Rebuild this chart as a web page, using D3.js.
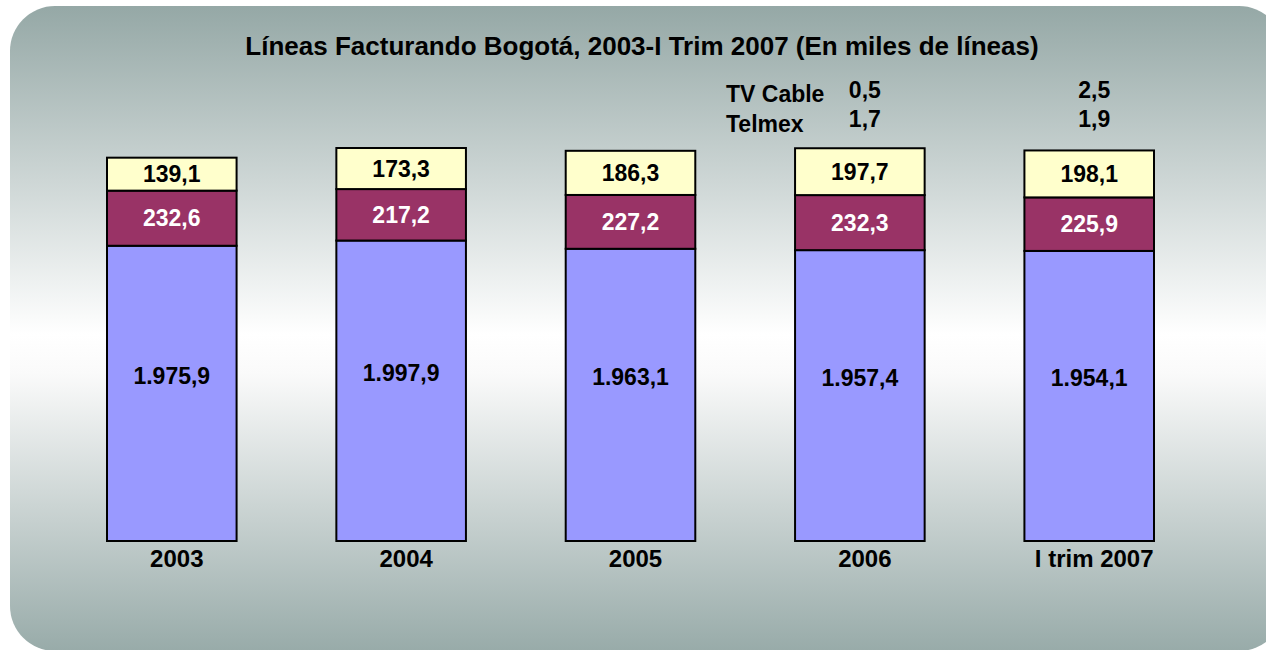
<html>

<head>
    <meta charset="UTF-8">
    <title>Lineas Facturando Bogota</title>
    <style>
        body {
            margin: 0;
            background: #fff;
        }

        text {
            font-family: "Liberation Sans", Arial, sans-serif;
            font-weight: bold;
        }

        .bar rect {
            stroke: #000;
            stroke-width: 2;
        }
    </style>
    <script src="https://d3js.org/d3.v7.min.js"></script>
</head>

<body>
    <script type="text/javascript">
        // data (miles de lineas)
        var periods = ['2003', '2004', '2005', '2006', 'I trim 2007']
        var etb = [1975.9, 1997.9, 1963.1, 1957.4, 1954.1]
        var epm = [232.6, 217.2, 227.2, 232.3, 225.9]
        var une = [139.1, 173.3, 186.3, 197.7, 198.1]
        var tvCable = [0, 0, 0, 0.5, 2.5]
        var telmex = [0, 0, 0, 1.7, 1.9]

        var layerNames = ['etb', 'epm', 'une']
        var layerColors = ['#9999ff', '#993366', '#ffffcc']
        var labelColors = ['#000', '#fff', '#000']

        var W = 1266, H = 650

        var rows = periods.map(function (p, i) {
            return { period: p, etb: etb[i], epm: epm[i], une: une[i] }
        })

        var svg = d3.select('body').append('svg')
            .attr('width', W)
            .attr('height', H)

        // background panel
        var grad = svg.append('defs').append('linearGradient')
            .attr('id', 'bg')
            .attr('x1', 0).attr('y1', 0).attr('x2', 0).attr('y2', 1)
        grad.append('stop').attr('offset', '0%').attr('stop-color', '#95a8a6')
        grad.append('stop').attr('offset', '51%').attr('stop-color', '#ffffff')
        grad.append('stop').attr('offset', '57%').attr('stop-color', '#fafafa')
        grad.append('stop').attr('offset', '100%').attr('stop-color', '#98aba9')

        svg.append('rect')
            .attr('x', 10).attr('y', 6)
            .attr('width', 1274).attr('height', 645)
            .attr('rx', 45).attr('ry', 45)
            .attr('fill', 'url(#bg)')

        svg.append('text')
            .attr('x', 642).attr('y', 55)
            .attr('text-anchor', 'middle')
            .style('font-size', '26px')
            .text('Líneas Facturando Bogotá, 2003-I Trim 2007 (En miles de líneas)')

        var x = d3.scaleBand()
            .domain(periods)
            .range([107, 1154])
            .paddingInner(0.435)
            .paddingOuter(0)

        // value axis starts above zero, as in the original
        var y = d3.scaleLinear()
            .domain([730, 2380])
            .range([541, 150])

        var stack = d3.stack().keys(layerNames)
        var series = stack(rows)

        var layers = svg.selectAll('.bar')
            .data(series)
            .enter().append('g')
            .attr('class', 'bar')
            .attr('fill', function (d, i) { return layerColors[i] })

        layers.selectAll('rect')
            .data(function (d) { return d })
            .enter().append('rect')
            .attr('x', function (d) { return x(d.data.period) })
            .attr('y', function (d) { return y(d[1]) })
            .attr('width', x.bandwidth())
            .attr('height', function (d) { return y(Math.max(d[0], 730)) - y(d[1]) })

        // segment labels
        var fmt = d3.formatLocale({ decimal: ',', thousands: '.', grouping: [3] }).format(',.1f')

        series.forEach(function (s, li) {
            svg.append('g').selectAll('text')
                .data(s)
                .enter().append('text')
                .attr('x', function (d) { return x(d.data.period) + x.bandwidth() / 2 })
                .attr('y', function (d) {
                    var y0 = y(Math.max(d[0], 730)), y1 = y(d[1])
                    var mid = (y0 + y1) / 2
                    if (li === 0) mid -= 18
                    return mid
                })
                .attr('dy', '0.36em')
                .attr('text-anchor', 'middle')
                .attr('fill', labelColors[li])
                .style('font-size', '23px')
                .text(function (d) { return fmt(d[1] - d[0]) })
        })

        // category labels
        svg.append('g').selectAll('text')
            .data(periods)
            .enter().append('text')
            .attr('x', function (d) { return x(d) + x.bandwidth() / 2 + 5 })
            .attr('y', 567)
            .attr('text-anchor', 'middle')
            .style('font-size', '24px')
            .text(function (d) { return d })

        // small operators shown as text above the bars
        var small = [{ name: 'TV Cable', vals: tvCable, ly: 102, vy: 98 },
                     { name: 'Telmex', vals: telmex, ly: 132, vy: 127 }]

        small.forEach(function (s) {
            svg.append('text')
                .attr('x', 726).attr('y', s.ly)
                .style('font-size', '23px')
                .text(s.name)
            svg.append('g').selectAll('text')
                .data(periods.filter(function (p, i) { return s.vals[i] > 0 }))
                .enter().append('text')
                .attr('x', function (d) { return x(d) + x.bandwidth() / 2 + 5 })
                .attr('y', s.vy)
                .attr('text-anchor', 'middle')
                .style('font-size', '23px')
                .text(function (d) { return fmt(s.vals[periods.indexOf(d)]) })
        })
    </script>
</body>

</html>
